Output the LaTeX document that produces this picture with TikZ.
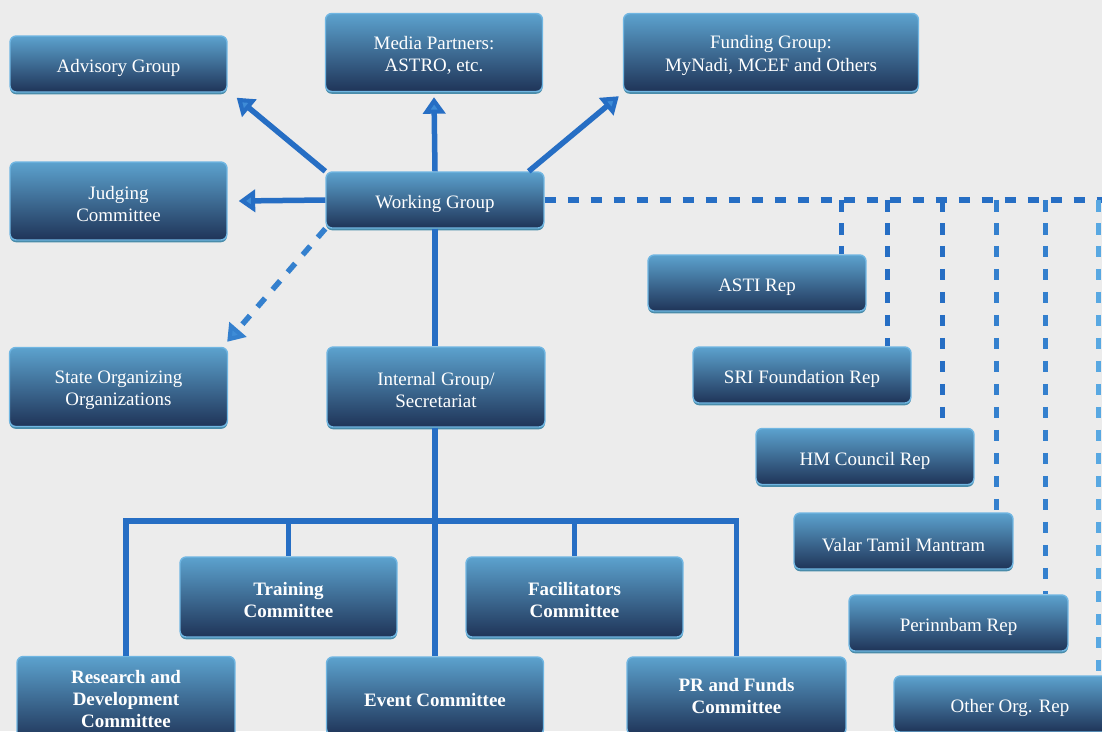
\documentclass[tikz,border=0pt]{standalone}
\usepackage{fontspec}
\setmainfont{Liberation Serif}
\usetikzlibrary{arrows.meta,calc,positioning,shadows}

\definecolor{paper}{RGB}{236,236,236}
\definecolor{boxtop}{RGB}{92,162,206}
\definecolor{boxmid}{RGB}{55,101,143}
\definecolor{boxbot}{RGB}{31,52,88}
\definecolor{boxedge}{RGB}{112,182,226}
\definecolor{boxshade}{RGB}{74,140,170}
\definecolor{linkblue}{RGB}{38,110,196}
\definecolor{linkmid}{RGB}{52,128,206}
\definecolor{linklight}{RGB}{88,168,226}
\definecolor{tipblue}{RGB}{62,140,215}
\newcommand{\lift}{\rule{0pt}{10.8pt}}

\begin{document}
\begin{tikzpicture}[x=0.02cm,y=-0.02cm,>={Triangle[length=0.33cm,width=0.44cm,fill=tipblue]},font=\fontsize{10.8}{12.6}\selectfont]
  \tikzstyle{orgbox}=[draw=boxedge,line width=0.8pt,rounded corners=3.5pt,top color=boxtop,middle color=boxmid,bottom color=boxbot,text=white,align=center,minimum width=4.34cm,minimum height=1.12cm,inner sep=2pt,execute at begin node={\rule{0pt}{12.4pt}},drop shadow={shadow xshift=0pt,shadow yshift=-1.3pt,fill=boxshade,opacity=1}]
  \tikzstyle{tallbox}=[orgbox,minimum height=1.56cm]
  \tikzstyle{boldbox}=[tallbox,font=\fontsize{10.8}{12.6}\selectfont\bfseries]
  \tikzstyle{link}=[line width=0.11cm,draw=linkblue]
  \tikzstyle{dashlink}=[link,dash pattern=on 0.23cm off 0.23cm]

  \useasboundingbox (0,0) rectangle (1102,731);
  \clip (0,0) rectangle (1102,731);
  \fill[paper] (0,0) rectangle (1102,731);

  \node[orgbox] (adv) at (118.5,64) {Advisory Group};
  \node[tallbox] (med) at (434,52.5) {\lift Media Partners:\\ASTRO, etc.};
  \node[tallbox,minimum width=5.9cm] (fund) at (771,52.5) {\lift Funding Group:\\MyNadi, MCEF and Others};
  \node[tallbox] (jud) at (118.5,201) {\lift Judging\\Committee};
  \node[orgbox,minimum width=4.36cm] (wg) at (435,200) {Working Group};
  \node[tallbox,minimum width=4.36cm,minimum height=1.58cm] (sto) at (118.5,387) {\lift State Organizing\\Organizations};
  \node[tallbox,minimum width=4.36cm,minimum height=1.6cm] (int) at (436,387) {\lift Internal Group/\\Secretariat};

  \node[orgbox,minimum width=4.36cm] (asti) at (757,283) {ASTI Rep};
  \node[orgbox,minimum width=4.36cm] (sri) at (802,375) {SRI Foundation Rep};
  \node[orgbox,minimum width=4.36cm] (hmc) at (865,456.5) {HM Council Rep};
  \node[orgbox,minimum width=4.38cm] (vtm) at (903.5,541) {Valar Tamil Mantram};
  \node[orgbox,minimum width=4.38cm] (per) at (958.5,623) {Perinnbam Rep};
  \node[orgbox,minimum width=4.64cm] (oth) at (1010,704) {Other Org. Rep};

  \node[boldbox,minimum height=1.6cm] (tr) at (288.5,597) {\lift Training\\Committee};
  \node[boldbox,minimum height=1.6cm] (fac) at (574.5,597) {\lift Facilitators\\Committee};
  \node[boldbox,minimum width=4.36cm,minimum height=1.7cm] (rd) at (126,699) {Research and\\Development\\Committee};
  \node[boldbox] (ev) at (435,696) {Event Committee};
  \node[boldbox,minimum width=4.38cm] (pr) at (736.5,696) {PR and Funds\\Committee};

  \draw[link,->] (wg.north west) -- ([shift={(9,5)}]adv.south east);
  \draw[link,->] (wg.north) -- ([shift={(0,5)}]med.south);
  \draw[link,->] ([shift={(-16,0)}]wg.north east) -- ([shift={(-4,4)}]fund.south west);
  \draw[link,->] (wg.west) -- ([shift={(11,0)}]jud.east);
  \draw[dashlink,draw=linkmid,->] (wg.south west) -- ([shift={(-1,-5)}]sto.north east);

  \draw[link] (wg.south) -- (int.north -| wg.south);
  \coordinate (bus) at (435,521);
  \draw[link] (int.south -| bus) -- (bus);
  \draw[link] (rd.north) |- (bus) -| (pr.north);
  \foreach \n in {tr,fac,ev}
    \draw[link] (\n.north |- bus) -- (\n.north);

  \coordinate (dend) at (1110,200);
  \draw[dashlink] (wg.east) -- (dend);
  \foreach \n/\d/\c in {asti/25/linkblue,sri/24/linkblue,hmc/32/linkblue,vtm/17/linkmid,per/23/linkmid,oth/28/linklight}
    \draw[dashlink,draw=\c] ([xshift=-\d*0.02cm]\n.north east |- wg.east) -- ([xshift=-\d*0.02cm]\n.north east);
\end{tikzpicture}
\end{document}
